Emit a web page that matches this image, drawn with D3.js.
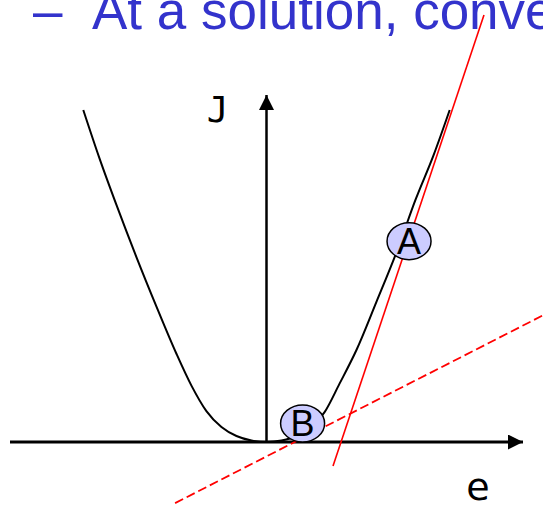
<!DOCTYPE html>
<html>
<head>
<meta charset="utf-8">
<script src="https://cdn.jsdelivr.net/npm/d3@7/dist/d3.min.js"></script>
<style>
  html, body { margin: 0; padding: 0; background: #fff; overflow: hidden; }
  #chart svg { display: block; overflow: hidden; }
</style>
</head>
<body>
<div id="chart"></div>
<script>
// Đường cong J(e), nhánh trái -> nhánh phải
const eVals = [-1.00, -0.912, -0.819, -0.710, -0.600, -0.491, -0.409, -0.328, -0.246, -0.164, -0.082, 0.00,
               0.082, 0.164, 0.246, 0.317, 0.398, 0.491, 0.600, 0.710, 0.813, 0.912, 1.00];
const jVals = [1.00, 0.855, 0.714, 0.557, 0.407, 0.265, 0.169, 0.093, 0.045, 0.018, 0.0045, 0.00,
               0.0045, 0.018, 0.048, 0.090, 0.175, 0.277, 0.422, 0.572, 0.729, 0.864, 1.00];

// Tiếp tuyến tại A (liền) và tại B (nét đứt)
const tangentA = [[1.187, 1.286], [0.363, -0.072]];
const tangentB = [[-0.499, -0.184], [1.55, 0.393]];

// Hai điểm đánh dấu
const markLabels = ["A", "B"];
const markE      = [0.778, 0.197];
const markJ      = [0.605, 0.056];

// Trục
const eRange = [-1.4, 1.4];
const jRange = [0, 1.045];
const axisLabels = ["J", "e"];

const title = ["–", "At a solution, convergence"];

(() => {
  const width = 543, height = 506;

  const svg = d3.select("#chart").append("svg")
    .attr("width", width)
    .attr("height", height)
    .attr("viewBox", [0, 0, width, height]);

  const x = d3.scaleLinear().domain(eRange).range([10, 523]);
  const y = d3.scaleLinear().domain([0, 1]).range([442, 110]);

  // mũi tên
  svg.append("defs").append("marker")
    .attr("id", "arrow")
    .attr("viewBox", "0 0 10 10")
    .attr("refX", 10).attr("refY", 5)
    .attr("markerWidth", 16).attr("markerHeight", 15)
    .attr("markerUnits", "userSpaceOnUse")
    .attr("orient", "auto")
    .append("path")
    .attr("d", "M0,0L10,5L0,10Z")
    .attr("fill", "#000");

  // 1) Tiêu đề (bị cắt ở mép trên/phải như bản gốc)
  svg.append("text")
    .attr("x", 33).attr("y", 29)
    .attr("font-family", "Liberation Sans, Arial, sans-serif")
    .attr("font-size", 53)
    .attr("fill", "#3333cc")
    .text(title[0]);
  svg.append("text")
    .attr("x", 92).attr("y", 29)
    .attr("font-family", "Liberation Sans, Arial, sans-serif")
    .attr("font-size", 53)
    .attr("fill", "#3333cc")
    .text(title[1]);

  // 2) Trục
  svg.append("line")
    .attr("x1", x(eRange[0])).attr("y1", y(0))
    .attr("x2", x(eRange[1])).attr("y2", y(0))
    .attr("stroke", "#000").attr("stroke-width", 3)
    .attr("marker-end", "url(#arrow)");
  svg.append("line")
    .attr("x1", x(0)).attr("y1", y(jRange[0]))
    .attr("x2", x(0)).attr("y2", y(jRange[1]))
    .attr("stroke", "#000").attr("stroke-width", 2.5)
    .attr("marker-end", "url(#arrow)");

  svg.append("text")
    .attr("x", x(0) - 49).attr("y", y(jRange[1]) + 27)
    .attr("text-anchor", "middle")
    .attr("font-family", "DejaVu Sans Mono, monospace")
    .attr("font-size", 36)
    .text(axisLabels[0]);
  svg.append("text")
    .attr("x", x(eRange[1]) - 45).attr("y", y(0) + 58)
    .attr("text-anchor", "middle")
    .attr("font-family", "DejaVu Sans, Verdana, sans-serif")
    .attr("font-size", 38)
    .text(axisLabels[1]);

  // 3) Đường cong
  const pts = eVals.map((e, i) => [e, jVals[i]]);
  const line = d3.line().x(d => x(d[0])).y(d => y(d[1])).curve(d3.curveMonotoneX);
  svg.append("path")
    .datum(pts)
    .attr("d", line)
    .attr("fill", "none")
    .attr("stroke", "#000")
    .attr("stroke-width", 2);

  // 4) Tiếp tuyến
  const straight = d3.line().x(d => x(d[0])).y(d => y(d[1]));
  svg.append("path")
    .datum(tangentA)
    .attr("d", straight)
    .attr("stroke", "#ff0000").attr("stroke-width", 1.6)
    .attr("fill", "none");
  svg.append("path")
    .datum(tangentB)
    .attr("d", straight)
    .attr("stroke", "#ff0000").attr("stroke-width", 1.8)
    .attr("stroke-dasharray", "9,4")
    .attr("fill", "none");

  // 5) Điểm A, B
  const marks = markLabels.map((t, i) => ({ t, e: markE[i], j: markJ[i] }));
  const mg = svg.selectAll("g.mark")
    .data(marks)
    .join("g")
    .attr("class", "mark")
    .attr("transform", d => `translate(${x(d.e)},${y(d.j)})`);
  mg.append("ellipse")
    .attr("rx", 22).attr("ry", 18.5)
    .attr("fill", "#ccccff")
    .attr("stroke", "#000").attr("stroke-width", 1.5);
  mg.append("text")
    .attr("y", 13)
    .attr("text-anchor", "middle")
    .attr("font-family", "Liberation Sans, Arial, sans-serif")
    .attr("font-size", 36)
    .text(d => d.t);
})();
</script>
</body>
</html>
